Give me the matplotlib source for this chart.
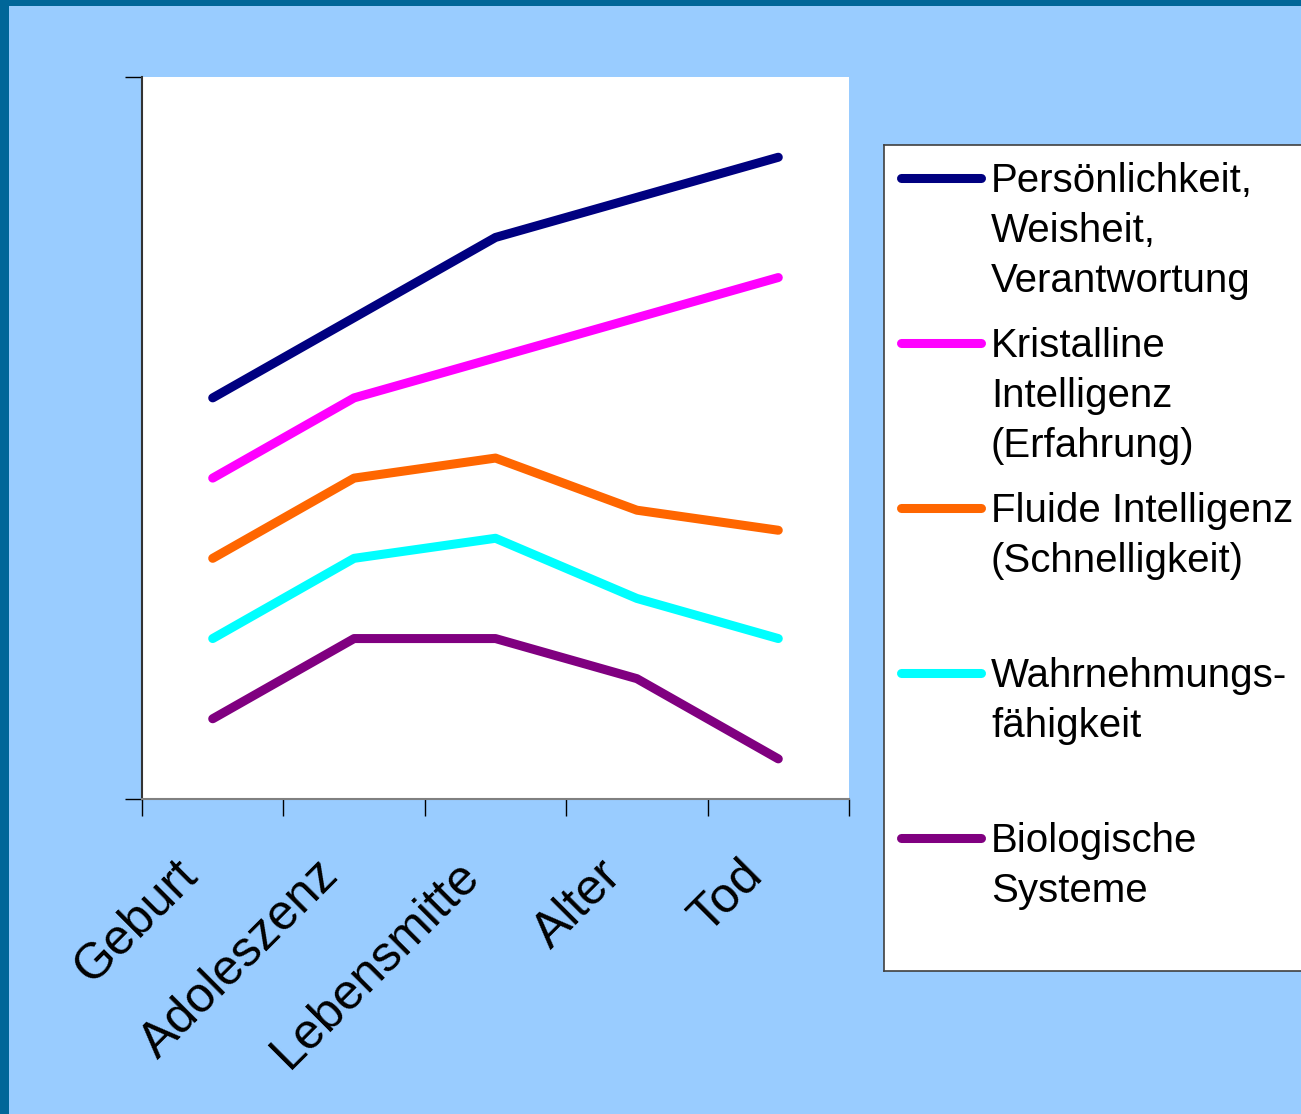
import matplotlib.pyplot as plt
import matplotlib.transforms as mtransforms
from matplotlib.lines import Line2D
from matplotlib.patches import Rectangle

plt.rcParams['font.family'] = ['Liberation Sans', 'DejaVu Sans']

stages = ['Geburt', 'Adoleszenz', 'Lebensmitte', 'Alter', 'Tod']

persoenlichkeit = [10, 12, 14, 15, 16]
kristallin = [8, 10, 11, 12, 13]
fluide = [6, 8, 8.5, 7.2, 6.7]
wahrnehmung = [4, 6, 6.5, 5, 4]
biologisch = [2, 4, 4, 3, 1]

series = [persoenlichkeit, kristallin, fluide, wahrnehmung, biologisch]
colors = ['#000080', '#FF00FF', '#FF6600', '#00FFFF', '#800080']
labels = [
    ['Persönlichkeit,', 'Weisheit,', 'Verantwortung'],
    ['Kristalline', 'Intelligenz', '(Erfahrung)'],
    ['Fluide Intelligenz', '(Schnelligkeit)'],
    ['Wahrnehmungs-', 'fähigkeit'],
    ['Biologische', 'Systeme'],
]

W, H = 1301, 1114
fig = plt.figure(figsize=(W / 100, H / 100), dpi=100)
fig.patch.set_facecolor('#99CCFF')

# slide frame along the left and top edge
fig.patches.append(Rectangle((0, 0), 9 / W, 1, transform=fig.transFigure,
                             facecolor='#006699', edgecolor='none'))
fig.patches.append(Rectangle((0, 1 - 6 / H), 1, 6 / H, transform=fig.transFigure,
                             facecolor='#006699', edgecolor='none'))

ax = fig.add_axes([142 / W, 1 - 799 / H, 707 / W, 722 / H])
ax.set_facecolor('white')

x = range(len(stages))
for vals, c in zip(series, colors):
    ax.plot(x, vals, color=c, lw=6.5, solid_capstyle='round', solid_joinstyle='round')

ax.set_xlim(-0.5, len(stages) - 0.5)
ax.set_ylim(0, 18)
ax.set_yticks([0, 18])
ax.set_yticklabels([])
ax.tick_params(axis='y', direction='out', length=12, width=1, color='black')

ax.set_xticks(list(x))
ax.set_xticklabels(stages, fontsize=36, rotation=45, ha='right', va='top',
                   rotation_mode='anchor')
ax.tick_params(axis='x', which='major', length=0, pad=38)
ax.set_xticks([i - 0.5 for i in range(len(stages) + 1)], minor=True)
ax.tick_params(axis='x', which='minor', direction='out', length=12, width=1, color='black')
shift = mtransforms.ScaledTranslation(-39 / 100, 0, fig.dpi_scale_trans)
for lbl in ax.get_xticklabels():
    lbl.set_transform(lbl.get_transform() + shift)

ax.spines['top'].set_visible(False)
ax.spines['right'].set_visible(False)
ax.spines['left'].set_color('#333333')
ax.spines['left'].set_linewidth(1.5)
ax.spines['bottom'].set_color('#808080')
ax.spines['bottom'].set_linewidth(1.5)

# legend box, drawn in pixel units
lg = fig.add_axes([884 / W, 1 - 971 / H, 440 / W, 826 / H])
lg.set_xlim(884, 1324)
lg.set_ylim(971, 145)
lg.set_xticks([])
lg.set_yticks([])
lg.set_facecolor('white')
for s in lg.spines.values():
    s.set_color('#404040')
    s.set_linewidth(1.2)

for i, (c, lines) in enumerate(zip(colors, labels)):
    y = 178 + 165 * i
    lg.add_line(Line2D([901, 981], [y, y], color=c, lw=6.5, solid_capstyle='round'))
    for k, t in enumerate(lines):
        lg.text(991, y + 14 + 50 * k, t, fontsize=29, va='baseline', ha='left')

fig.savefig('out.png', dpi=100, facecolor=fig.get_facecolor())
